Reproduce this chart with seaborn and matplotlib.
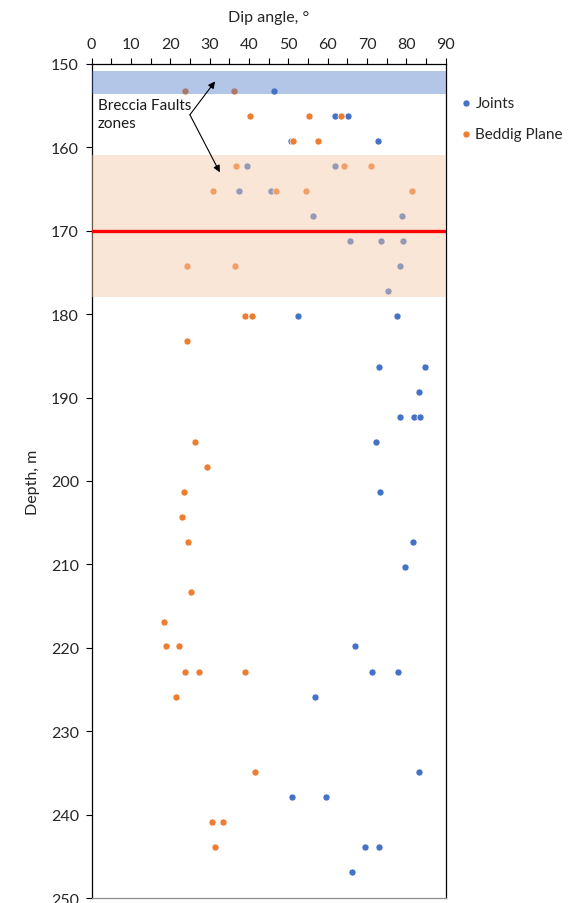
import matplotlib
matplotlib.use("Agg")
import matplotlib.pyplot as plt
from matplotlib.ticker import MultipleLocator
import pandas as pd
import seaborn as sns

# Joint measurements: depth (m) and dip angle (deg)
joint_depth = [153.2, 156.2, 156.2, 159.2, 159.2, 162.2, 162.2, 165.2, 165.2,
               168.2, 168.2, 171.2, 171.2, 171.2, 174.2, 177.2, 180.2, 180.2,
               186.3, 186.3, 189.3, 192.3, 192.3, 192.3, 195.3, 201.3, 207.3,
               210.3, 219.8, 222.9, 222.9, 225.9, 234.9, 237.9, 237.9, 243.9,
               243.9, 246.9]
joint_dip = [46.4, 61.9, 65.3, 50.6, 72.7, 39.6, 61.8, 37.5, 45.5,
             56.4, 78.9, 65.6, 73.5, 79.1, 78.5, 75.3, 52.4, 77.5,
             73.1, 84.7, 83.2, 78.3, 82.0, 83.5, 72.3, 73.3, 81.7,
             79.7, 66.9, 71.2, 77.8, 56.8, 83.2, 51.0, 59.6, 69.5,
             73.1, 66.1]

# Bedding plane measurements: depth (m) and dip angle (deg)
bed_depth = [153.2, 153.2, 156.2, 156.2, 156.2, 159.2, 159.2, 162.2, 162.2,
             162.2, 165.2, 165.2, 165.2, 165.2, 174.2, 174.2, 180.2, 180.2,
             183.2, 195.3, 198.3, 201.3, 204.3, 207.3, 213.3, 216.9, 219.8,
             219.8, 222.9, 222.9, 222.9, 225.9, 234.9, 240.9, 240.9, 243.9]
bed_dip = [23.8, 36.3, 40.2, 55.2, 63.5, 51.3, 57.6, 36.7, 64.1,
           71.0, 30.9, 46.8, 54.6, 81.5, 24.2, 36.5, 38.9, 40.9,
           24.2, 26.3, 29.4, 23.4, 23.0, 24.5, 25.4, 18.5, 19.0,
           22.2, 23.7, 27.4, 38.9, 21.5, 41.5, 30.5, 33.5, 31.3]

series_names = ["Joints", "Beddig Plane"]
x_ticks = list(range(0, 91, 10))
y_ticks = list(range(150, 251, 10))

# Breccia fault zones (depth intervals) and reference depth
breccia_zones = [(150.9, 153.6), (160.9, 178.0)]
reference_depth = 170.0

JOINT_C = "#4472C4"
BED_C = "#ED7D31"
FS = 11.5

sns.set_theme(style="white")
plt.rcParams["font.family"] = ["Lato", "DejaVu Sans"]

joints = pd.DataFrame({"Dip": joint_dip, "Depth": joint_depth, "Type": series_names[0]})
beds = pd.DataFrame({"Dip": bed_dip, "Depth": bed_depth, "Type": series_names[1]})

fig = plt.figure(figsize=(5.7, 9.04), dpi=100)
ax = fig.add_axes([91.5 / 570, 1 - 899 / 904, (445.7 - 91.5) / 570, (899 - 64.9) / 904])

sns.scatterplot(data=joints, x="Dip", y="Depth", color=JOINT_C, s=62,
                edgecolor="white", linewidth=0.5, ax=ax, zorder=2,
                label=series_names[0], legend=False)
sns.scatterplot(data=beds, x="Dip", y="Depth", color=BED_C, s=44,
                edgecolor="white", linewidth=0.5, ax=ax, zorder=2,
                label=series_names[1], legend=False)

# Shaded fault zones laid over the points
ax.axhspan(*breccia_zones[0], color=JOINT_C, alpha=0.4, lw=0, zorder=3)
ax.axhspan(*breccia_zones[1], color="#F6C9A8", alpha=0.45, lw=0, zorder=3)
ax.axhline(reference_depth, color="#FF0000", lw=2.4, zorder=4)

ax.text(1.65, 156.0, "Breccia Faults\nzones", fontsize=11, va="center",
        ha="left", linespacing=1.35, zorder=6, color="#1a1a1a")
arrow_kw = dict(arrowstyle="-|>", color="black", lw=0.8,
                mutation_scale=10, shrinkA=0, shrinkB=0)
ax.annotate("", xy=(31.4, 152.1), xytext=(25.0, 156.1), arrowprops=arrow_kw, zorder=6)
ax.annotate("", xy=(32.6, 163.0), xytext=(25.0, 156.1), arrowprops=arrow_kw, zorder=6)

ax.set_xlim(0, 90)
ax.set_ylim(250, 150)
ax.set_xticks(x_ticks)
ax.set_yticks(y_ticks)
ax.xaxis.set_minor_locator(MultipleLocator(5))
ax.xaxis.tick_top()
ax.xaxis.set_label_position("top")
ax.tick_params(axis="x", which="both", direction="out", length=4, width=0.8,
               color="black", labelsize=FS, pad=5, top=True, bottom=False)
ax.tick_params(axis="y", which="major", direction="out", length=4, width=0.8,
               color="black", labelsize=FS, pad=5, left=True)

ax.set_xlabel("Dip angle, °", fontsize=FS)
ax.xaxis.set_label_coords(0.5, 1 + (64.9 - 18) / 834.1)
ax.xaxis.label.set_va("center")
ax.set_ylabel("Depth, m", fontsize=FS)
ax.yaxis.set_label_coords((33 - 91.5) / 354.2, 0.5)
ax.yaxis.label.set_va("center")

for side in ["left", "right", "top", "bottom"]:
    ax.spines[side].set_visible(True)
    ax.spines[side].set_color("black")
    ax.spines[side].set_linewidth(0.9)
ax.spines["bottom"].set_color("#8c8c8c")

handles, labels = ax.get_legend_handles_labels()
for h in handles:
    h.set_sizes([26])
fig.legend(handles, labels, loc="upper left",
           bbox_to_anchor=(451 / 570, 1 - 91 / 904), frameon=False,
           fontsize=11, handletextpad=0.0, labelspacing=1.1,
           borderaxespad=0, handlelength=1.2)

fig.savefig("out.png", dpi=100)
